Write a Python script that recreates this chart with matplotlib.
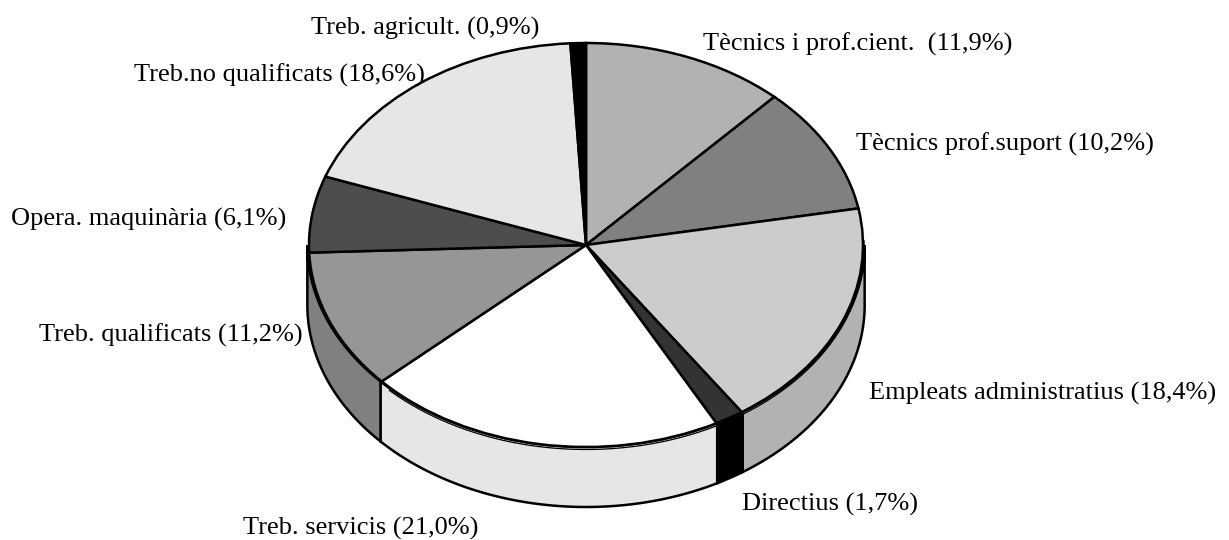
import numpy as np
import matplotlib
matplotlib.use('Agg')
import matplotlib.pyplot as plt

# dades del gràfic
etiquetes = ['Tècnics i prof.cient.  (11,9%)', 'Tècnics prof.suport (10,2%)',
             'Empleats administratius (18,4%)', 'Directius (1,7%)',
             'Treb. servicis (21,0%)', 'Treb. qualificats (11,2%)',
             'Opera. maquinària (6,1%)', 'Treb.no qualificats (18,6%)',
             'Treb. agricult. (0,9%)']
valors = [11.9, 10.2, 18.4, 1.7, 21.0, 11.2, 6.1, 18.6, 0.9]
colors_sup = ['#b2b2b2', '#808080', '#cccccc', '#333333', '#ffffff',
              '#969696', '#4d4d4d', '#e6e6e6', '#000000']
colors_lat = ['#b2b2b2', '#808080', '#b2b2b2', '#000000', '#e6e6e6',
              '#808080', '#4d4d4d', '#e6e6e6', '#000000']
pos_etiq = [(703, 43), (856, 143), (869, 392), (742, 503), (243, 527),
            (39, 334), (11, 218), (134, 74), (311, 27)]

W, H = 1229, 540
cx, cy, rx, ry = 586, 245, 277, 202
gruix = 60 / ry

plt.rcParams['font.family'] = ['Liberation Serif', 'DejaVu Serif']

fig = plt.figure(figsize=(W / 100, H / 100), dpi=100)
ax = fig.add_axes([0, 0, 1, 1])

# pastis de dalt, el cercle unitat queda com una el·lipse amb els limits dels eixos
wedges, _ = ax.pie(valors, colors=colors_sup, startangle=90, counterclock=False, radius=1,
                   wedgeprops={'edgecolor': 'black', 'linewidth': 1.8, 'zorder': 5})
ax.set_aspect('auto')
ax.set_xlim(-cx / rx, (W - cx) / rx)
ax.set_ylim((cy - H) / ry, cy / ry)

# paret lateral, nomes la part de davant
ang = 90.0
for v, c in zip(valors, colors_lat):
    a0, a1 = ang, ang - v * 3.6
    ang = a1
    # angles entre -180 i 0 son els visibles, els trossets del final no es dibuixen
    ini, fi = min(a0, 0), max(a1, -180)
    if ini - fi < 3:
        continue
    if fi < -175:
        fi = -180
    t = np.radians(np.linspace(ini, fi, 80))
    x = np.cos(t) * 1.006
    y = np.sin(t)
    ax.fill(np.r_[x, x[::-1]], np.r_[y, y[::-1] - gruix], facecolor=c,
            edgecolor='black', linewidth=1.8, zorder=2)

# doble linia a la vora de davant
t = np.radians(np.linspace(2, -135, 200))
ax.plot(np.cos(t) * 1.004, np.sin(t) - 2.5 / ry, color='black', linewidth=0.9, zorder=3)

for text, (px, py) in zip(etiquetes, pos_etiq):
    fig.text(px / W, 1 - (py + 1) / H, text, fontsize=19, color='black', ha='left', va='center')

fig.savefig('out.png', dpi=100, facecolor='white')
